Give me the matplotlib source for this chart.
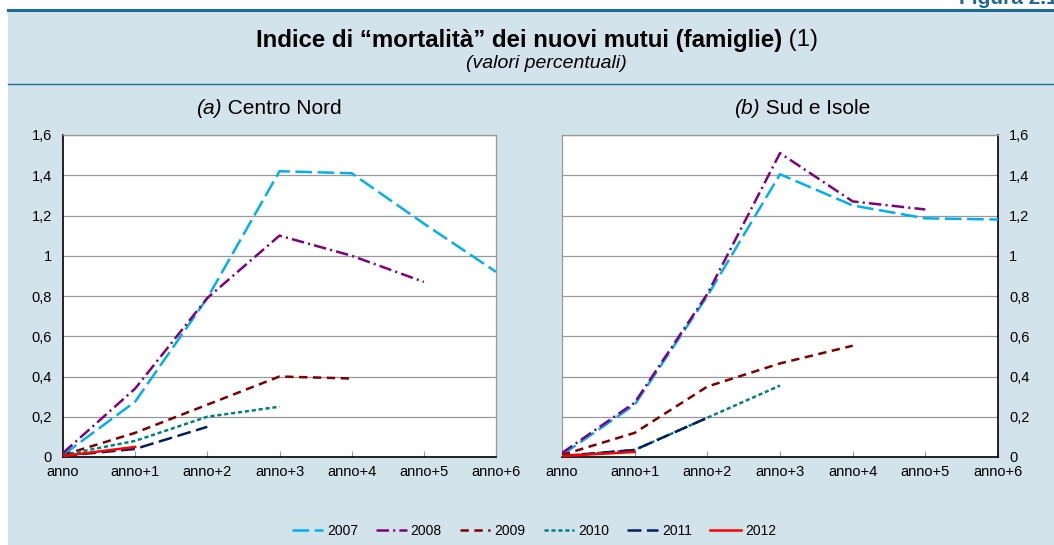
import matplotlib
matplotlib.use("Agg")
import matplotlib.pyplot as plt
from matplotlib.patches import Rectangle
from matplotlib.lines import Line2D
from matplotlib.ticker import FuncFormatter

plt.rcParams['font.family'] = ['Liberation Sans', 'DejaVu Sans']
plt.rcParams['lines.scale_dashes'] = False

# categorie asse x
anni = ['anno', 'anno+1', 'anno+2', 'anno+3', 'anno+4', 'anno+5', 'anno+6']
serie = ['2007', '2008', '2009', '2010', '2011', '2012']

# (a) Centro Nord
cn_2007 = [0.01, 0.275, 0.79, 1.42, 1.41, 1.16, 0.92]
cn_2008 = [0.02, 0.34, 0.79, 1.10, 1.00, 0.87]
cn_2009 = [0.01, 0.12, 0.26, 0.40, 0.39]
cn_2010 = [0.01, 0.08, 0.20, 0.25]
cn_2011 = [0.005, 0.04, 0.15]
cn_2012 = [0.005, 0.05]

# (b) Sud e Isole
si_2007 = [0.01, 0.26, 0.80, 1.405, 1.25, 1.186, 1.18]
si_2008 = [0.02, 0.27, 0.81, 1.51, 1.27, 1.23]
si_2009 = [0.01, 0.12, 0.35, 0.465, 0.553]
si_2010 = [0.005, 0.035, 0.195, 0.355]
si_2011 = [0.005, 0.035, 0.195]
si_2012 = [0.005, 0.025]

colori = ['#00b0f0', '#800080', '#800000', '#008080', '#002060', '#ff0000']
tratti = [(0, (12, 4)), (0, (9, 3, 1.5, 3)), (0, (6, 4)), (0, (3, 2)), (0, (10, 4)), '-']

bg = '#d3e3ec'
blu = '#1d6a93'
W, H = 1054, 545

fig = plt.figure(figsize=(10.54, 5.45), dpi=100)
fig.patch.set_facecolor('white')

# pannello azzurro e linee
fig.patches.append(Rectangle((8/W, 0), 1 - 8/W, 1 - 10/H, transform=fig.transFigure,
                             facecolor=bg, edgecolor='none', zorder=-10))
fig.add_artist(Line2D([8/W, 1], [1 - 10/H]*2, color=blu, lw=2.2))
fig.add_artist(Line2D([8/W, 1], [1 - 84/H]*2, color=blu, lw=1))

# etichetta "Figura" tagliata dal bordo, come nell'originale
fig.text(1068/W, 1 + 2/H, 'Figura 2.11', ha='right', va='center', fontsize=15,
         fontweight='bold', color=blu)

# titolo: parte in grassetto + "(1)" normale, centrato nel complesso
renderer = fig.canvas.get_renderer()
t1 = fig.text(0, 1 - 40/H, 'Indice di \u201cmortalità\u201d dei nuovi mutui (famiglie)',
              ha='left', va='center', fontsize=17.3, fontweight='bold')
t2 = fig.text(0, 1 - 40/H, ' (1)', ha='left', va='center', fontsize=17.3)
w1 = t1.get_window_extent(renderer).width
w2 = t2.get_window_extent(renderer).width
x0 = 537 - (w1 + w2) / 2
t1.set_x(x0 / W)
t2.set_x((x0 + w1) / W)
fig.text(546/W, 1 - 64/H, '(valori percentuali)', ha='center', va='center',
         fontsize=14, style='italic')


def titolo(xc, lettera, nome):
    a = fig.text(0, 1 - 108/H, lettera, ha='left', va='center', fontsize=15, style='italic')
    b = fig.text(0, 1 - 108/H, nome, ha='left', va='center', fontsize=15)
    wa = a.get_window_extent(renderer).width
    wb = b.get_window_extent(renderer).width
    x = xc - (wa + wb) / 2
    a.set_x(x / W)
    b.set_x((x + wa) / W)


def disegna(ax, dati, destra=False):
    ax.set_facecolor('white')
    for i, y in enumerate(dati):
        ax.plot(range(len(y)), y, color=colori[i], linestyle=tratti[i], lw=1.8,
                label=serie[i], zorder=3 + i * 0.1)
    ax.set_xlim(0, 6)
    ax.set_ylim(0, 1.6)
    ax.set_yticks([0, 0.2, 0.4, 0.6, 0.8, 1.0, 1.2, 1.4, 1.6])
    ax.yaxis.set_major_formatter(FuncFormatter(lambda v, p: ('%g' % round(v, 1)).replace('.', ',')))
    ax.set_xticks(range(7))
    ax.set_xticklabels(anni)
    ax.grid(axis='y', color='#999999', lw=0.9)
    ax.set_axisbelow(True)
    for s in ax.spines.values():
        s.set_color('#999999')
        s.set_linewidth(0.9)
    ax.spines['bottom'].set_color('black')
    ax.spines['bottom'].set_linewidth(1.2)
    lato = 'right' if destra else 'left'
    ax.spines[lato].set_color('black')
    ax.spines[lato].set_linewidth(1.2)
    ax.tick_params(axis='x', length=4, color='#999999', direction='in', labelsize=10.5, pad=6)
    ax.tick_params(axis='y', length=0, labelsize=10.5, pad=8)
    if destra:
        ax.yaxis.tick_right()


ax1 = fig.add_axes([63/W, 1 - 457/H, 433/W, 322/H])
disegna(ax1, [cn_2007, cn_2008, cn_2009, cn_2010, cn_2011, cn_2012])
titolo(269, '(a)', ' Centro Nord')

ax2 = fig.add_axes([562/W, 1 - 457/H, 436/W, 322/H])
disegna(ax2, [si_2007, si_2008, si_2009, si_2010, si_2011, si_2012], destra=True)
titolo(802, '(b)', ' Sud e Isole')

h, l = ax1.get_legend_handles_labels()
fig.legend(h, l, loc='center', bbox_to_anchor=(534/W, 1 - 531/H), ncol=6, frameon=False,
           fontsize=10, handlelength=2.2, handletextpad=0.3, columnspacing=1.3)

fig.savefig('out.png', dpi=100, facecolor=fig.get_facecolor())
